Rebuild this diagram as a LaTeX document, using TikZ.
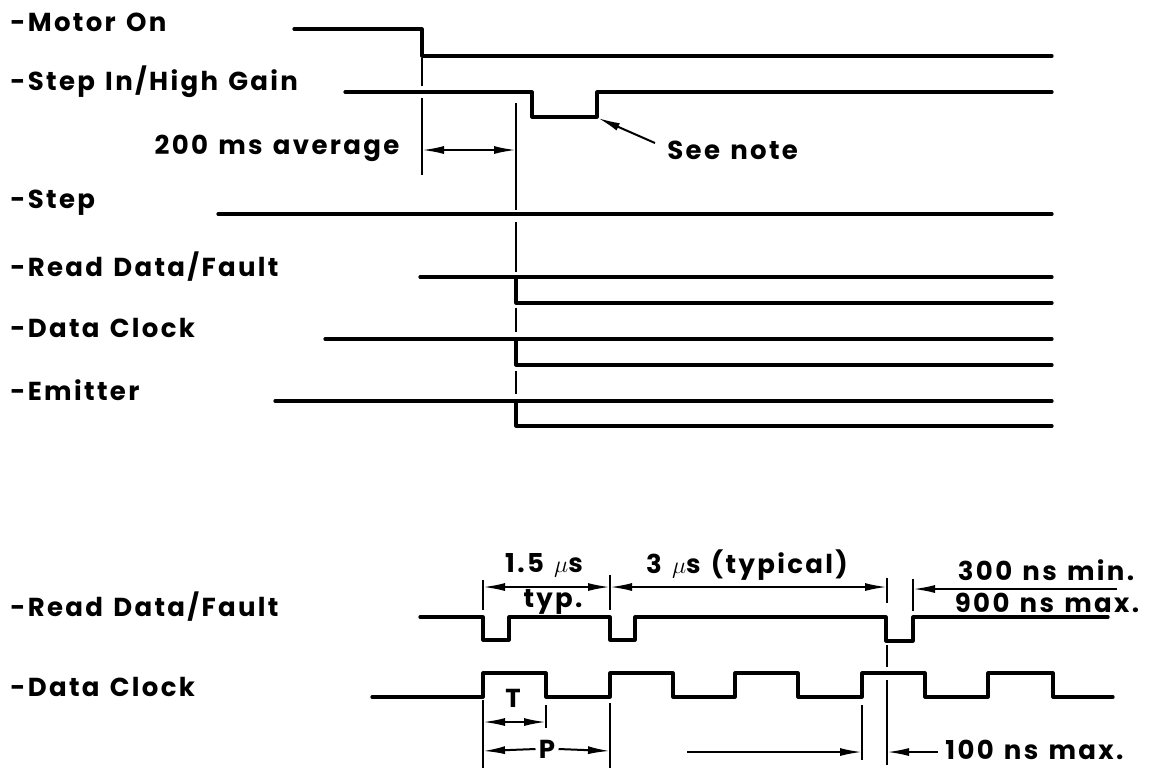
\documentclass[tikz,border=0pt]{standalone}
\usepackage{fontspec}
\setmainfont{Poppins}[LetterSpace=9,WordSpace=1.3]
\usetikzlibrary{arrows.meta}
\begin{document}
\begin{tikzpicture}[x=0.5pt,y=-0.5pt,
  sig/.style={line width=1.6pt, line join=round, line cap=round},
  tickln/.style={line width=1pt},
  tip/.tip={Latex[length=11pt,width=4pt]},
  dimarr/.style={line width=1pt, tip-tip},
  onearr/.style={line width=1pt, -tip},
  lbl/.style={anchor=west, inner sep=0pt, font=\fontsize{13}{15}\selectfont\bfseries},
  txt/.style={inner sep=0pt, font=\fontsize{13}{15}\selectfont\bfseries}]
\useasboundingbox (0,0) rectangle (1155,768);

% labels
\node[lbl] (lMotor) at (10,22) {-Motor On};
\node[lbl] (lStepIn) at (10,82) {-Step In/High Gain};
\node[lbl] (lStep) at (10,203) {-Step};
\node[lbl] (lRD) at (10,267) {-Read Data/Fault};
\node[lbl] (lDC) at (10,328) {-Data Clock};
\node[lbl] (lEm) at (10,390) {-Emitter};
\node[lbl] (lRDb) at (10,607) {-Read Data/Fault};
\node[lbl] (lDCb) at (10,687) {-Data Clock};

% top waveforms
\draw[sig] (294,29) -- (422,29) -- (422,56) -- (1052,56);
\draw[sig] (345,92) -- (532,92) -- (532,117) -- (597,117) -- (597,92) -- (1052,92);
\draw[sig] (218,214) -- (1052,214);
\draw[sig] (420,277) -- (1052,277);
\draw[sig] (516,277) -- (516,303) -- (1052,303);
\draw[sig] (325,339) -- (1052,339);
\draw[sig] (516,339) -- (516,365) -- (1052,365);
\draw[sig] (275,401) -- (1052,401);
\draw[sig] (516,401) -- (516,426) -- (1052,426);

% vertical reference lines (top)
\draw[tickln] (422,58) -- (422,86);
\draw[tickln] (422,98) -- (422,175);
\draw[tickln] (516,103) -- (516,210);
\draw[tickln] (516,222) -- (516,272);
\draw[tickln] (516,308) -- (516,332);
\draw[tickln] (516,371) -- (516,394);

\coordinate (a1) at (422,150);
\coordinate (a2) at (516,150);
\draw[dimarr] (a1) -- (a2);
\node[txt] (t200) at (277,148) {200 ms average};

\coordinate (notetip) at (598,118);
\node[lbl] (tnote) at (667,150) {See note};
\draw[onearr] (655,143) -- (notetip);

% bottom waveforms
\draw[sig] (420,617) -- (483,617) -- (483,640) -- (509,640) -- (509,617) -- (610,617)
  -- (610,640) -- (635,640) -- (635,617) -- (886,617) -- (886,641) -- (913,641)
  -- (913,617) -- (1108,617);
\draw[sig] (372,697) -- (483,697) -- (483,673) -- (546,673) -- (546,697) -- (610,697)
  -- (610,673) -- (673,673) -- (673,697) -- (735,697) -- (735,673) -- (798,673)
  -- (798,697) -- (862,697) -- (862,673) -- (925,673) -- (925,697) -- (988,697)
  -- (988,673) -- (1053,673) -- (1053,697) -- (1113,697);

% ticks
\coordinate (k1) at (483,587);
\coordinate (k2) at (610,587);
\coordinate (k3) at (887,587);
\coordinate (k4) at (913,589);
\coordinate (k4r) at (1117,589);
\draw[tickln] (483,580) -- (483,610);
\draw[tickln] (610,575) -- (610,610);
\draw[tickln] (887,578) -- (887,603);
\draw[tickln] (913,579) -- (913,611);
\draw[dimarr] (k1) -- (k2);
\draw[dimarr] (k2) -- (k3);
\draw[onearr] (k4r) -- (k4);

\node[txt] (t15) at (544,565) {1.5 $\mu$s};
\node[txt] (ttyp) at (553,602) {typ.};
\node[txt] (t3) at (747,565) {3 $\mu$s (typical)};
\node[txt] (t300) at (1046,570) {300 ns min.};
\node[txt] (t900) at (1047,603) {900 ns max.};

% lower dimension lines
\draw[tickln] (887,645) -- (887,667);
\draw[tickln] (887,680) -- (887,765);
\draw[tickln] (862,705) -- (862,760);
\coordinate (h1) at (862,752);
\coordinate (h1l) at (687,752);
\coordinate (h2) at (887,752);
\coordinate (h2r) at (938,752);
\draw[onearr] (h1l) -- (h1);
\draw[onearr] (h2r) -- (h2);
\node[lbl] (t100) at (945,750) {100 ns max.};

\draw[tickln] (483,700) -- (483,768);
\draw[tickln] (546,705) -- (546,728);
\draw[tickln] (610,703) -- (610,768);
\node[txt] (tT) at (513,698) {T};
\coordinate (tm) at (514,722);
\draw[onearr] (tm) -- (483,722);
\draw[onearr] (tm) -- (546,722);
\node[txt] (tP) at (547,749) {P};
\draw[onearr] (tP.west) ++(-3,0) -- (483,751);
\draw[onearr] (tP.east) ++(3,0) -- (610,751);
\end{tikzpicture}
\end{document}
